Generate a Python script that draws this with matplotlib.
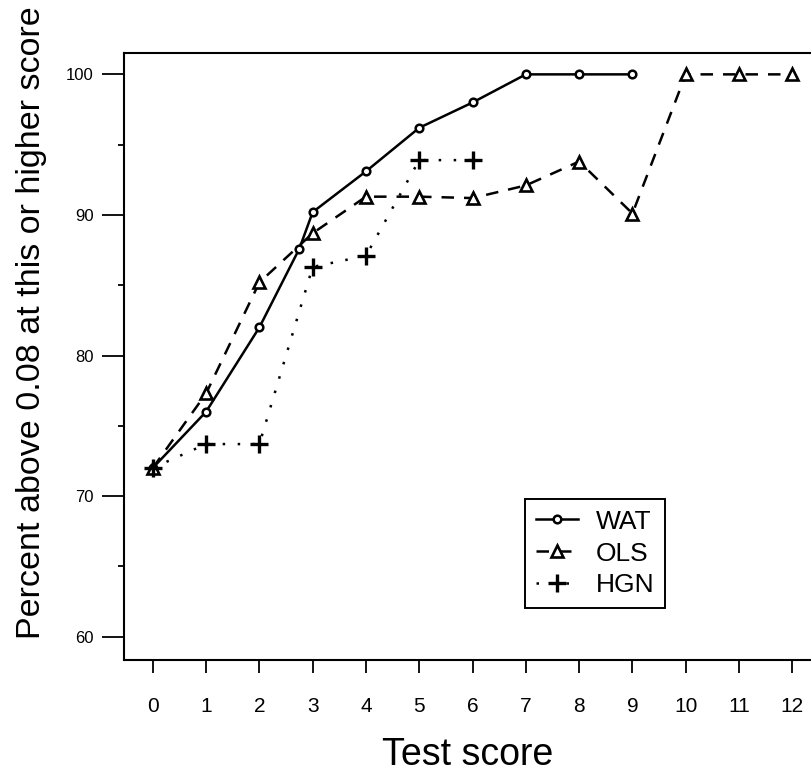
import numpy as np
import matplotlib
matplotlib.use("Agg")
import matplotlib.pyplot as plt

plt.rcParams['font.family'] = ['Liberation Sans', 'DejaVu Sans']

# values
scores = [0, 1, 2, 3, 4, 5, 6, 7, 8, 9, 10, 11, 12]
wat_x = [0, 1, 2, 2.75, 3, 4, 5, 6, 7, 8, 9]
wat_y = [72.0, 76.0, 82.0, 87.6, 90.2, 93.1, 96.2, 98.0, 100.0, 100.0, 100.0]
ols_x = scores
ols_y = [72.0, 77.3, 85.2, 88.7, 91.3, 91.3, 91.2, 92.1, 93.8, 90.1, 100.0, 100.0, 100.0]
hgn_x = [0, 1, 2, 3, 4, 5, 6]
hgn_y = [72.0, 73.7, 73.7, 86.3, 87.1, 93.9, 93.9]
yticks = [60, 70, 80, 90, 100]
yminor = [65, 75, 85, 95]

fig = plt.figure(figsize=(8.11, 7.73), dpi=100)
ax = fig.add_axes([0.1529, 0.1462, 1 - 0.1529, 0.9318 - 0.1462])

ax.plot(wat_x, wat_y, color='black', lw=1.8, ls='-', marker='o', ms=5.5,
        mfc='white', mec='black', mew=1.8, label='WAT')
ax.plot(ols_x, ols_y, color='black', lw=1.8, ls=(0, (5, 4)), marker='^', ms=9,
        mfc='white', mec='black', mew=1.9, label='OLS')
ax.plot(hgn_x, hgn_y, color='black', lw=1.8, ls=(0, (1, 5)), marker='+', ms=13,
        mew=2.4, label='HGN')

ax.set_xlim(-0.54, 12.35)
ax.set_ylim(58.34, 101.54)
ax.set_xticks(scores)
ax.set_yticks(yticks)
ax.set_yticks(yminor, minor=True)
ax.spines['right'].set_visible(False)
for s in ['left', 'bottom', 'top']:
    ax.spines[s].set_linewidth(1.5)

ax.tick_params(axis='x', direction='out', length=9.5, width=1.3, pad=17, labelsize=15)
ax.tick_params(axis='y', which='major', direction='out', length=16, width=1.3, pad=6, labelsize=12)
ax.tick_params(axis='y', which='minor', direction='out', length=4, width=1.3)

ax.set_xlabel('Test score', fontsize=27, labelpad=15)
ax.set_ylabel('Percent above 0.08 at this or higher score', fontsize=24.5)
ax.yaxis.set_label_coords(-0.112, 0.555)

leg = ax.legend(loc='lower left', bbox_to_anchor=(0.584, 0.0856), fontsize=19,
                frameon=True, fancybox=False, edgecolor='black', framealpha=1,
                borderaxespad=0, handlelength=1.6, handletextpad=0.68,
                labelspacing=0.3, borderpad=0.4)
leg.get_frame().set_linewidth(1.4)

fig.savefig('out.png', dpi=100)
